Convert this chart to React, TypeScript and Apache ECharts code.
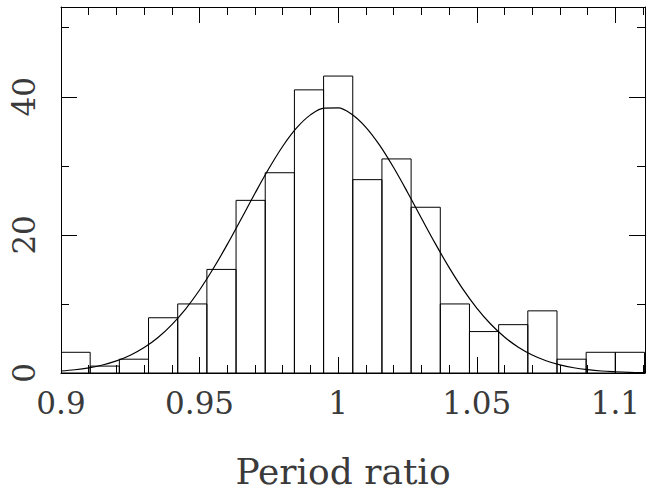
import React, { useEffect, useRef } from 'react';
import * as echarts from 'echarts';

// Histogram bins (left edge of the first bin and bin width) and counts
const binStart = 0.9;
const binWidth = 0.2 / 19;
const counts = [3, 1, 2, 8, 10, 15, 25, 29, 41, 43, 28, 31, 24, 10, 6, 7, 9, 2, 3, 3];

// Fitted curve
const curveX = [
  0.9, 0.905, 0.91, 0.915, 0.92, 0.925, 0.93, 0.935, 0.94, 0.945, 0.95, 0.955, 0.96, 0.965,
  0.97, 0.975, 0.98, 0.985, 0.99, 0.995, 1.0, 1.005, 1.01, 1.015, 1.02, 1.025, 1.03, 1.035,
  1.04, 1.045, 1.05, 1.055, 1.06, 1.065, 1.07, 1.075, 1.08, 1.085, 1.09, 1.095, 1.1, 1.105, 1.11,
];
const curveY = [
  0.29, 0.47, 0.75, 1.16, 1.75, 2.57, 3.68, 5.14, 7.01, 9.3, 12.02, 15.16, 18.62, 22.3,
  26.03, 29.61, 32.84, 35.49, 37.38, 38.37, 38.39, 37.43, 35.58, 32.96, 29.75, 26.18, 22.45, 18.77,
  15.29, 12.14, 9.4, 7.09, 5.21, 3.73, 2.61, 1.78, 1.18, 0.76, 0.48, 0.29, 0.18, 0.1, 0.06,
];

const xTickLabels = ['0.9', '0.95', '1', '1.05', '1.1'];
const yTickLabels = ['0', '20', '40'];
const xName = 'Period ratio';

const X_MIN = 0.9;
const X_MAX = 1.1107;
const Y_MIN = 0;
const Y_MAX = 53;

const FONT = '"DejaVu Serif", serif';
const TEXT_COLOR = '#3a3a3a';

export default function App() {
  const ref = useRef<HTMLDivElement>(null);

  useEffect(() => {
    if (!ref.current) return;
    const chart = echarts.init(ref.current, undefined, { renderer: 'svg' });

    const histData = counts.map((c, i) => [binStart + i * binWidth, binStart + (i + 1) * binWidth, c]);
    const lineData = curveX.map((x, i) => [x, curveY[i]]);

    const black = { color: '#000', width: 1 };

    const xAxisBase = (position: string, interval: number, len: number, showLine: boolean, labels: boolean) => ({
      type: 'value',
      gridIndex: 0,
      position,
      min: X_MIN,
      max: X_MAX,
      interval,
      axisLine: { show: showLine, onZero: false, lineStyle: black },
      axisTick: { show: true, inside: true, length: len, lineStyle: black },
      splitLine: { show: false },
      axisLabel: labels
        ? {
            show: true,
            margin: 14,
            fontFamily: FONT,
            fontSize: 31,
            color: TEXT_COLOR,
            formatter: (v: number) => {
              const s = String(+v.toFixed(4));
              return xTickLabels.includes(s) ? s : '';
            },
          }
        : { show: false },
    });

    const yAxisBase = (position: string, interval: number, len: number, showLine: boolean, labels: boolean) => ({
      type: 'value',
      gridIndex: 0,
      position,
      min: Y_MIN,
      max: Y_MAX,
      interval,
      axisLine: { show: showLine, onZero: false, lineStyle: black },
      axisTick: { show: true, inside: true, length: len, lineStyle: black },
      splitLine: { show: false },
      axisLabel: labels
        ? {
            show: true,
            rotate: 90,
            margin: 22,
            fontFamily: FONT,
            fontSize: 31,
            color: TEXT_COLOR,
            formatter: (v: number) => {
              const s = String(+v.toFixed(4));
              return yTickLabels.includes(s) ? s : '';
            },
          }
        : { show: false },
    });

    const xMajorBottom: any = xAxisBase('bottom', 0.05, 16, false, true);
    xMajorBottom.name = xName;
    xMajorBottom.nameLocation = 'middle';
    xMajorBottom.nameGap = 80;
    xMajorBottom.nameTextStyle = {
      fontFamily: FONT,
      fontSize: 36,
      color: TEXT_COLOR,
      padding: [0, 20, 0, 0],
    };

    chart.setOption({
      animation: false,
      backgroundColor: '#fff',
      grid: { left: 61, top: 7, width: 587, height: 366, containLabel: false },
      xAxis: [
        xAxisBase('bottom', 0.01, 8, true, false),
        xMajorBottom,
        xAxisBase('top', 0.01, 8, true, false),
        xAxisBase('top', 0.05, 16, false, false),
      ],
      yAxis: [
        yAxisBase('left', 10, 8, true, false),
        yAxisBase('left', 20, 16, false, true),
        yAxisBase('right', 10, 8, true, false),
        yAxisBase('right', 20, 16, false, false),
      ],
      series: [
        {
          type: 'custom',
          xAxisIndex: 0,
          yAxisIndex: 0,
          clip: true,
          data: histData,
          renderItem: (params: any, api: any) => {
            const x0 = api.value(0);
            const x1 = api.value(1);
            const c = api.value(2);
            const p0 = api.coord([x0, 0]);
            const p1 = api.coord([x1, c]);
            return {
              type: 'rect',
              shape: { x: p0[0], y: p1[1], width: p1[0] - p0[0], height: p0[1] - p1[1] },
              style: { fill: 'none', stroke: '#000', lineWidth: 1 },
            };
          },
        },
        {
          type: 'line',
          xAxisIndex: 0,
          yAxisIndex: 0,
          data: lineData,
          smooth: 0.35,
          symbol: 'none',
          clip: true,
          lineStyle: { color: '#000', width: 1.2 },
        },
      ],
    });

    return () => chart.dispose();
  }, []);

  return (
    <div
      ref={ref}
      style={{ position: 'fixed', left: 0, top: 0, width: 648, height: 496, background: '#fff' }}
    />
  );
}
